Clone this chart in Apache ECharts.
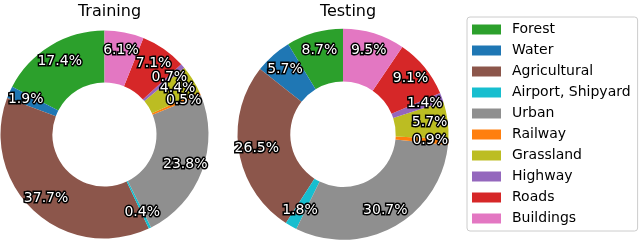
<!DOCTYPE html>
<html>
<head>
<meta charset="utf-8">
<script src="https://cdn.jsdelivr.net/npm/echarts@6/dist/echarts.min.js"></script>
<style>html,body{margin:0;padding:0;background:#fff;}#c{width:640px;height:242px;}</style>
</head>
<body>
<div id="c"></div>
<script>
const categories = ['Forest','Water','Agricultural','Airport, Shipyard','Urban','Railway','Grassland','Highway','Roads','Buildings'];
const trainingValues = [17.4, 1.9, 37.7, 0.4, 23.8, 0.5, 4.4, 0.7, 7.1, 6.1];
const testingValues = [8.7, 5.7, 26.5, 1.8, 30.7, 0.9, 5.7, 1.4, 9.1, 9.5];
const colors = ['#2ca02c','#1f77b4','#8c564b','#17becf','#8f8f8f','#ff7f0e','#bcbd22','#9467bd','#d62728','#e377c2'];
const titles = ['Training','Testing'];

const FONT = 'DejaVu Sans';
function mkData(vals, transparent){
  return categories.map((n,i)=>({name:n, value:vals[i], itemStyle:{color: transparent ? 'rgba(0,0,0,0)' : colors[i]}}));
}
function ring(vals, center, R){
  return {
    type:'pie', center:center, radius:[R*0.5, R], startAngle:90, clockwise:false,
    data: mkData(vals,false), label:{show:false}, labelLine:{show:false},
    itemStyle:{borderWidth:0}, emphasis:{disabled:true}, silent:true, animation:false
  };
}
function labels(vals, center, R){
  return {
    type:'pie', center:center, radius:[R*0.6, R], startAngle:90, clockwise:false,
    data: mkData(vals,true), legendHoverLink:false, avoidLabelOverlap:false,
    labelLayout:{hideOverlap:false},
    label:{show:true, position:'inside', formatter: p => p.value.toFixed(1)+'%', overflow:'none',
      color:'#fff', fontFamily:FONT, fontSize:14, textBorderColor:'#000', textBorderWidth:3},
    labelLine:{show:false}, itemStyle:{borderWidth:0}, emphasis:{disabled:true}, silent:true, animation:false
  };
}
const c1 = [104.5, 134.5], R1 = 104;
const c2 = [343, 134.3], R2 = 105.5;
const chart = echarts.init(document.getElementById('c'), null, {renderer:'canvas'});
chart.setOption({
  animation:false,
  title:[
    {text:titles[0], left:c1[0], top:-2, textAlign:'center', textStyle:{fontFamily:FONT, fontSize:16, fontWeight:'normal', color:'#000', lineHeight:18}},
    {text:titles[1], left:c2[0], top:-2, textAlign:'center', textStyle:{fontFamily:FONT, fontSize:16, fontWeight:'normal', color:'#000', lineHeight:18}}
  ],
  legend:{
    orient:'vertical', left:467, top:17, data:categories,
    itemWidth:29, itemHeight:10, itemGap:7, icon:'rect',
    padding:[5.5,7,5.5,5],
    borderColor:'#cccccc', borderWidth:1, borderRadius:3, backgroundColor:'#fff',
    selectedMode:false,
    textStyle:{fontFamily:FONT, fontSize:14, color:'#000', lineHeight:14, padding:[0,0,0,6]}
  },
  series:[ring(trainingValues,c1,R1), ring(testingValues,c2,R2), labels(trainingValues,c1,R1), labels(testingValues,c2,R2)]
});
</script>
</body>
</html>
